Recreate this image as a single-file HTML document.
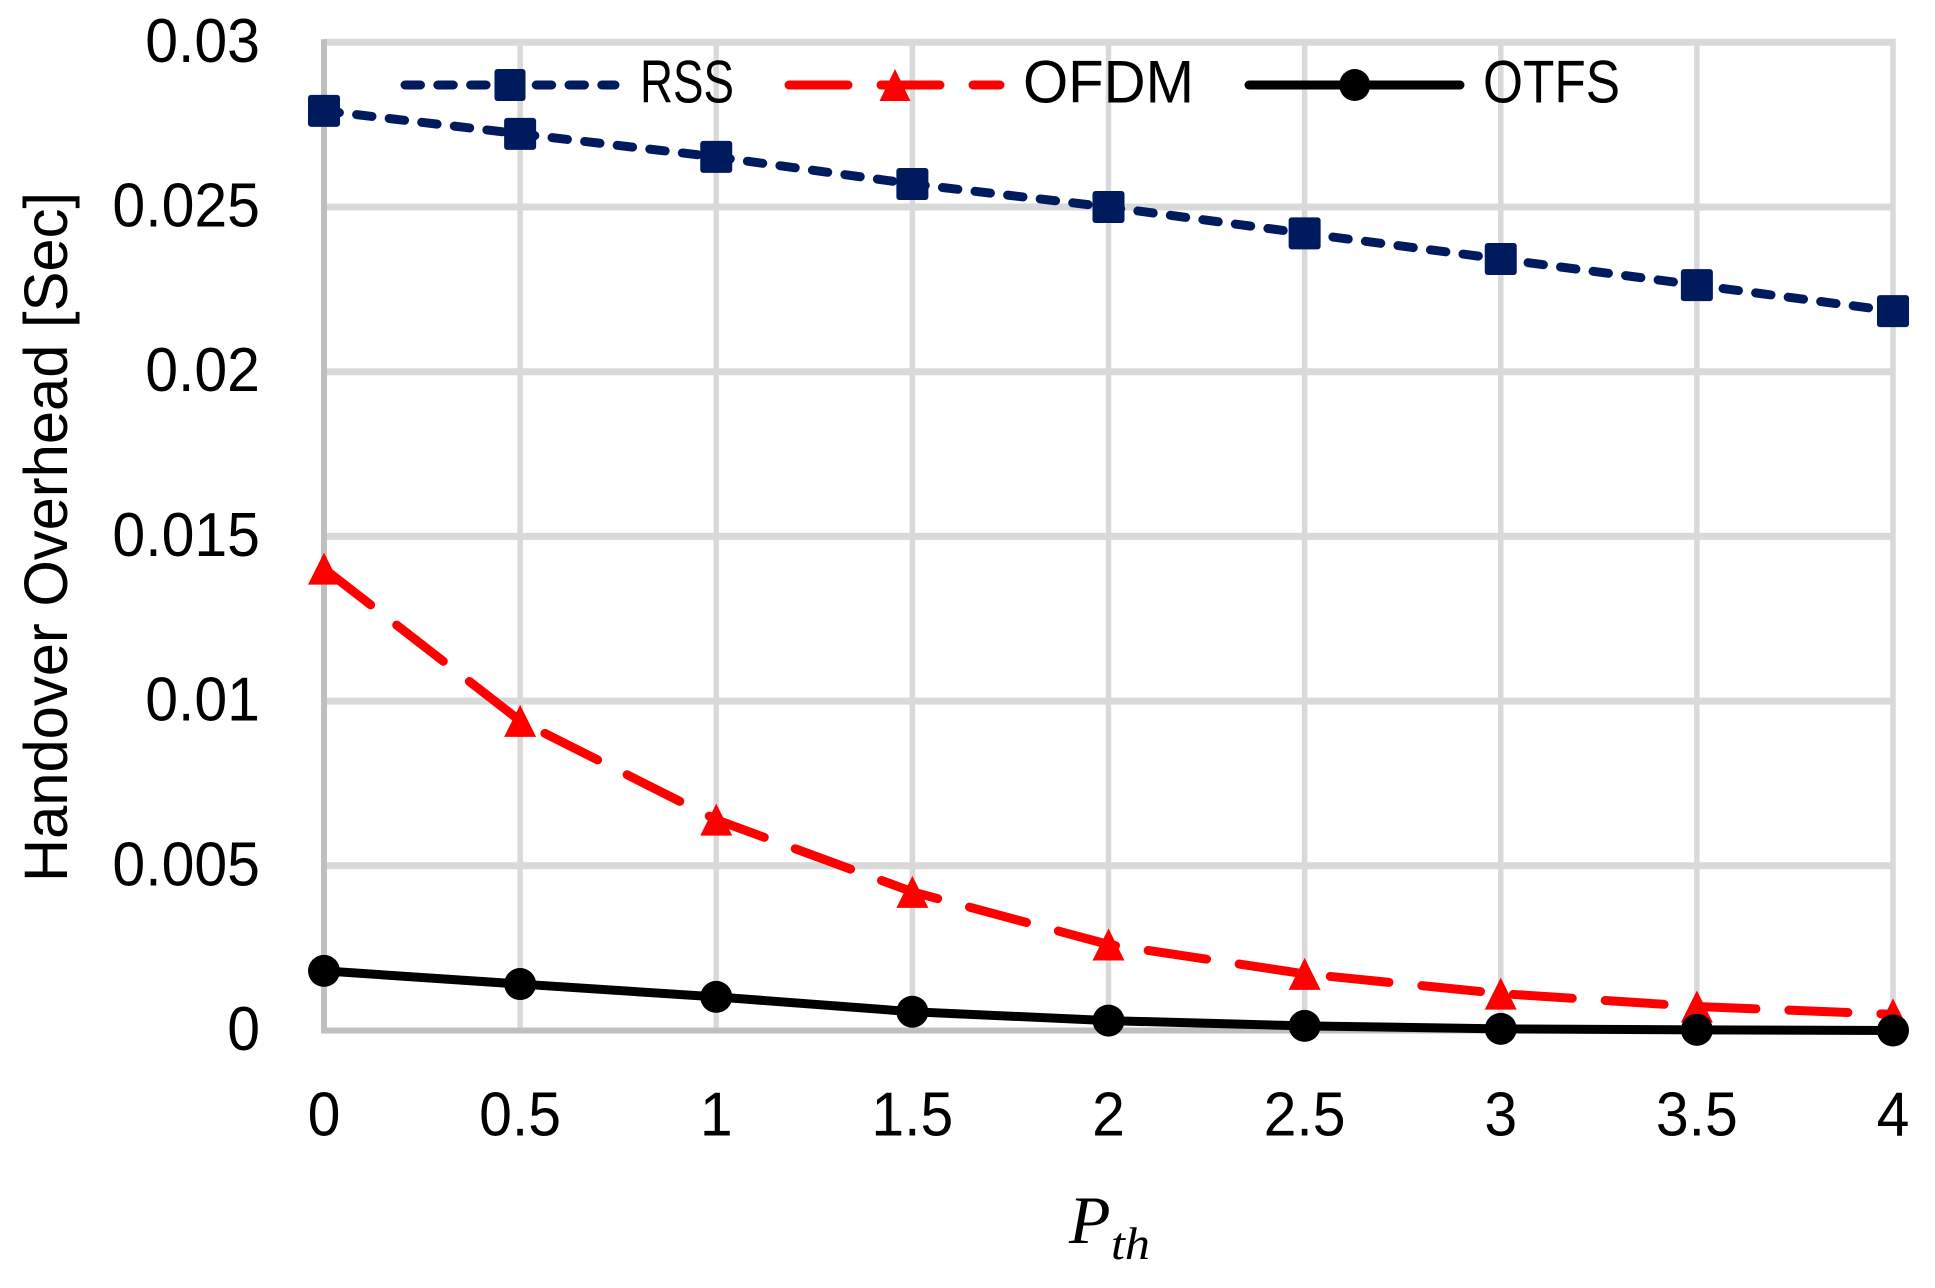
<!DOCTYPE html>
<html lang="en">
<head>
<meta charset="utf-8">
<title>Handover Overhead vs Pth</title>
<style>
html,body{margin:0;padding:0;background:#fff;width:1935px;height:1288px;overflow:hidden}
svg{display:block}
text{font-family:"Liberation Sans",sans-serif;fill:#000}
</style>
</head>
<body>
<svg id="chart" xmlns="http://www.w3.org/2000/svg" width="1935" height="1288" viewBox="0 0 1935 1288">
  <rect x="0" y="0" width="1935" height="1288" fill="#ffffff"/>
  <g id="grid"></g>
  <g id="axes"></g>
  <g id="ticks"></g>
  <g id="series"></g>

  <text transform="translate(67,882) rotate(-90)" font-size="61" textLength="690" lengthAdjust="spacingAndGlyphs">Handover Overhead [Sec]</text>

  <g>
    <text x="1069" y="1243" font-size="68" font-style="italic" style="font-family:'Liberation Serif',serif">P</text>
    <text x="1111" y="1259" font-size="46" font-style="italic" textLength="39" lengthAdjust="spacingAndGlyphs" style="font-family:'Liberation Serif',serif">th</text>
  </g>

  <g>
    <g>
      <line x1="405" y1="85" x2="615" y2="85" stroke="#001a5e" stroke-width="9" stroke-linecap="round" stroke-dasharray="15.5 17.3"/>
      <rect x="494.5" y="69" width="31" height="32" rx="3" fill="#001a5e"/>
      <text x="640" y="102.5" font-size="60" textLength="94" lengthAdjust="spacingAndGlyphs">RSS</text>
    </g>
    <g>
      <line x1="789" y1="85" x2="1000" y2="85" stroke="#ff0000" stroke-width="9" stroke-linecap="round" stroke-dasharray="59 33"/>
      <polygon points="895,69 910.5,101 879.5,101" fill="#ff0000"/>
      <text x="1023" y="102.5" font-size="60" textLength="171" lengthAdjust="spacingAndGlyphs">OFDM</text>
    </g>
    <g>
      <line x1="1249" y1="85" x2="1460" y2="85" stroke="#000000" stroke-width="9" stroke-linecap="round"/>
      <ellipse cx="1354.7" cy="85" rx="15.5" ry="16" fill="#000000"/>
      <text x="1483" y="102.5" font-size="60" textLength="137" lengthAdjust="spacingAndGlyphs">OTFS</text>
    </g>
  </g>
</svg>
<script>
const categories = [0, 0.5, 1, 1.5, 2, 2.5, 3, 3.5, 4];
const xTickLabels = ['0', '0.5', '1', '1.5', '2', '2.5', '3', '3.5', '4'];
const yTicks = [0, 0.005, 0.01, 0.015, 0.02, 0.025, 0.03];
const yTickLabels = ['0', '0.005', '0.01', '0.015', '0.02', '0.025', '0.03'];
const rssValues = [0.02792, 0.02722, 0.02652, 0.0257, 0.025, 0.0242, 0.02342, 0.02263, 0.02184];
const ofdmValues = [0.01402, 0.0094, 0.0064, 0.00421, 0.00261, 0.00172, 0.00112, 0.00073, 0.00049];
const otfsValues = [0.00181, 0.00141, 0.00102, 0.00057, 0.0003, 0.00014, 0.00005, 0.00002, 0];

const NS = 'http://www.w3.org/2000/svg';
const plotLeft = 324, plotRight = 1893, plotTop = 42.3, plotBottom = 1030.5;
const xMin = 0, xMax = 4, yMin = 0, yMax = 0.03;

function xScale(v) { return plotLeft + (v - xMin) / (xMax - xMin) * (plotRight - plotLeft); }
function yScale(v) { return plotBottom - (v - yMin) / (yMax - yMin) * (plotBottom - plotTop); }
function labelWidth(s) { return s.split('').reduce(function (w, ch) { return w + (ch === '.' ? 16.4 : 32.8); }, 0); }

function make(tag, attrs, parent) {
  const el = document.createElementNS(NS, tag);
  for (const k in attrs) el.setAttribute(k, attrs[k]);
  parent.appendChild(el);
  return el;
}

const gridG = document.getElementById('grid');
const axesG = document.getElementById('axes');
const ticksG = document.getElementById('ticks');
const seriesG = document.getElementById('series');

yTicks.forEach(function (t, i) {
  if (t !== yMin) {
    const g = make('line', { x1: plotLeft, x2: plotRight + 2.5, y1: yScale(t), y2: yScale(t), stroke: '#d9d9d9', 'stroke-width': 7 }, gridG);
    
    
  }
  const lab = make('text', { x: 260, y: yScale(t) + 19.5, 'text-anchor': 'end', 'font-size': 62, textLength: labelWidth(yTickLabels[i]), lengthAdjust: 'spacingAndGlyphs' }, ticksG);
  lab.textContent = yTickLabels[i];
  
  
});

categories.forEach(function (c, i) {
  if (c !== xMin) {
    const g = make('line', { x1: xScale(c), x2: xScale(c), y1: plotTop - 3, y2: plotBottom, stroke: '#d9d9d9', 'stroke-width': 5.5 }, gridG);
    
    
  }
  const lab = make('text', { x: xScale(c), y: 1135.5, 'text-anchor': 'middle', 'font-size': 62, textLength: labelWidth(xTickLabels[i]), lengthAdjust: 'spacingAndGlyphs' }, ticksG);
  lab.textContent = xTickLabels[i];
  
  
});

const yAxisLine = make('line', { x1: plotLeft, x2: plotLeft, y1: plotTop - 3, y2: plotBottom + 3, stroke: '#bfbfbf', 'stroke-width': 6 }, axesG);


const xAxisLine = make('line', { x1: plotLeft - 3, x2: plotRight + 2.5, y1: plotBottom, y2: plotBottom, stroke: '#bfbfbf', 'stroke-width': 6 }, axesG);



function linePoints(values) {
  return values.map(function (v, i) { return xScale(categories[i]) + ',' + yScale(v); }).join(' ');
}

const rssLine = make('polyline', { points: linePoints(rssValues), fill: 'none', stroke: '#001a5e', 'stroke-width': 9, 'stroke-linecap': 'round', 'stroke-dasharray': '15.5 17.3' }, seriesG);


rssValues.forEach(function (v, i) {
  const m = make('rect', { x: xScale(categories[i]) - 16, y: yScale(v) - 16, width: 32, height: 32, rx: 3, fill: '#001a5e' }, seriesG);
  
  
});

const ofdmLine = make('polyline', { points: linePoints(ofdmValues), fill: 'none', stroke: '#ff0000', 'stroke-width': 9, 'stroke-linecap': 'round', 'stroke-dasharray': '59 33' }, seriesG);


ofdmValues.forEach(function (v, i) {
  const cx = xScale(categories[i]), cy = yScale(v);
  const m = make('polygon', { points: cx + ',' + (cy - 16) + ' ' + (cx + 16) + ',' + (cy + 16) + ' ' + (cx - 16) + ',' + (cy + 16), fill: '#ff0000' }, seriesG);
  
  
});

const otfsLine = make('polyline', { points: linePoints(otfsValues), fill: 'none', stroke: '#000000', 'stroke-width': 9, 'stroke-linecap': 'round' }, seriesG);


otfsValues.forEach(function (v, i) {
  const m = make('ellipse', { cx: xScale(categories[i]), cy: yScale(v), rx: 16, ry: 16, fill: '#000000' }, seriesG);
  
  
});
</script>
</body>
</html>
